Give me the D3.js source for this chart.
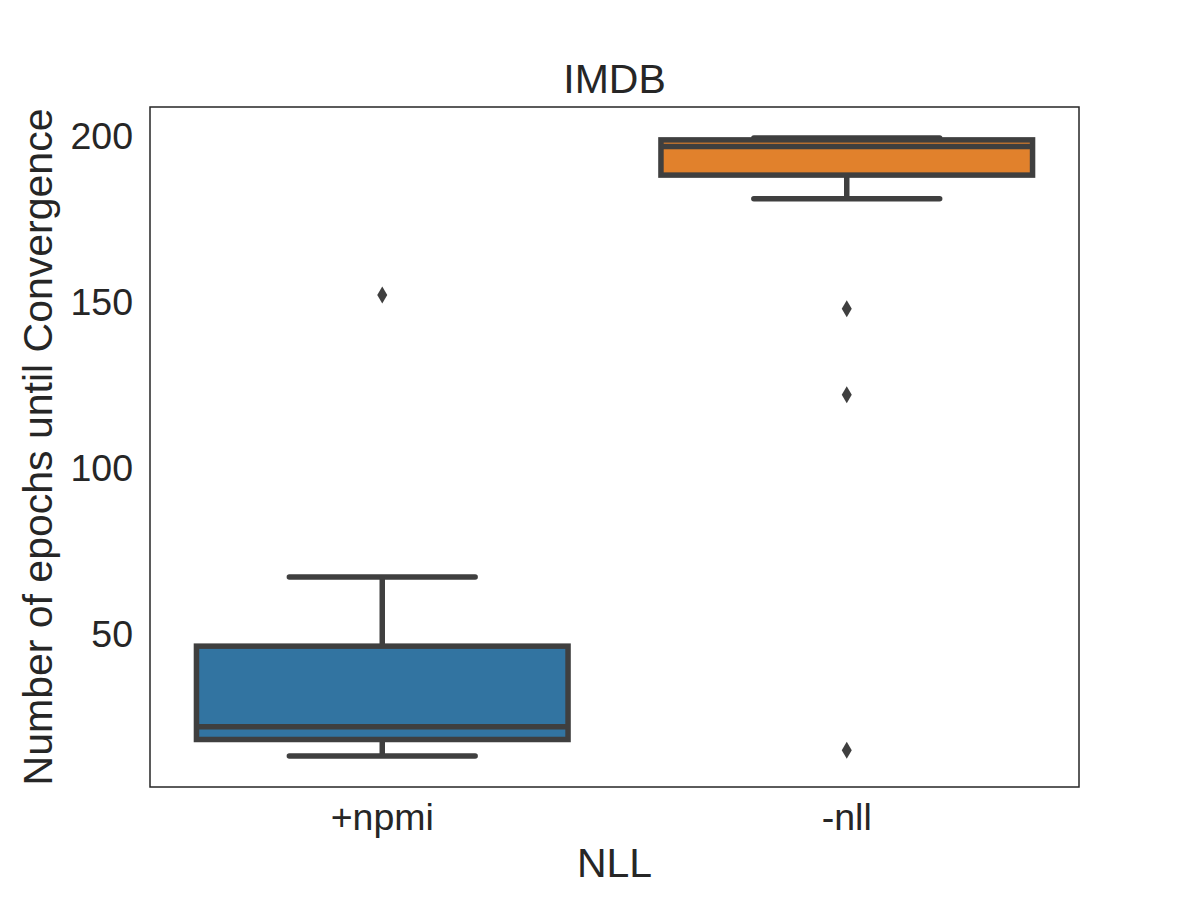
<!DOCTYPE html>
<html>
<head>
<meta charset="utf-8">
<script src="https://cdn.jsdelivr.net/npm/d3@7"></script>
<style>
  body { margin: 0; background: #fff; }
  text { font-family: "Liberation Sans", Arial, sans-serif; fill: #262626; }
</style>
</head>
<body>
<svg width="1200" height="900"></svg>
<script>
const categories = ['+npmi', '-nll'];
const whiskerLow = [13.5, 181.3];
const q1 = [18.5, 188.4];
const median = [22.3, 197.0];
const q3 = [46.6, 199.0];
const whiskerHigh = [67.4, 199.6];
const outliers = [[152.3], [148.2, 122.3, 15.3]];
const colors = ['#3274a1', '#e1812c'];
const yTicks = [50, 100, 150, 200];

const boxes = categories.map((c, i) => ({
  cat: c, lo: whiskerLow[i], q1: q1[i], med: median[i], q3: q3[i], hi: whiskerHigh[i],
  out: outliers[i], color: colors[i]
}));

const svg = d3.select('svg'),
      margin = {top: 107, right: 121, bottom: 113, left: 150},
      width = 1200 - margin.left - margin.right,
      height = 900 - margin.top - margin.bottom,
      g = svg.append('g').attr('transform', `translate(${margin.left}, ${margin.top})`);

const x = d3.scaleBand()
  .domain(categories)
  .range([0, width]);

const y = d3.scaleLinear()
  .domain([4.2, 208.9])
  .range([height, 0]);

const boxW = x.bandwidth() * 0.8,
      lineColor = '#3f3f3f',
      lw = 5.5;

// Axes (seaborn white style: no tick marks)
g.append('g')
  .attr('transform', `translate(0, ${height})`)
  .call(d3.axisBottom(x).tickSize(0).tickPadding(16))
  .call(a => a.select('.domain').remove())
  .selectAll('text')
    .style('font-size', '37.5px')
    .attr('fill', '#262626');

g.append('g')
  .call(d3.axisLeft(y).tickValues(yTicks).tickSize(0).tickPadding(17))
  .call(a => a.select('.domain').remove())
  .selectAll('text')
    .style('font-size', '37.5px')
    .attr('dy', '0.32em')
    .attr('fill', '#262626');

const bx = g.append('g').selectAll('.box')
  .data(boxes)
  .enter().append('g')
    .attr('class', 'box')
    .attr('transform', d => `translate(${x(d.cat) + x.bandwidth() / 2}, 0)`);

// Whiskers
bx.append('line')
  .attr('x1', 0).attr('x2', 0)
  .attr('y1', d => y(d.hi)).attr('y2', d => y(d.q3))
  .attr('stroke', lineColor).attr('stroke-width', lw);
bx.append('line')
  .attr('x1', 0).attr('x2', 0)
  .attr('y1', d => y(d.lo)).attr('y2', d => y(d.q1))
  .attr('stroke', lineColor).attr('stroke-width', lw);

// Caps
['hi', 'lo'].forEach(k => {
  bx.append('line')
    .attr('x1', -boxW / 4).attr('x2', boxW / 4)
    .attr('y1', d => y(d[k])).attr('y2', d => y(d[k]))
    .attr('stroke', lineColor).attr('stroke-width', lw)
    .attr('stroke-linecap', 'round');
});

// Box
bx.append('rect')
  .attr('x', -boxW / 2)
  .attr('width', boxW)
  .attr('y', d => y(d.q3))
  .attr('height', d => y(d.q1) - y(d.q3))
  .attr('fill', d => d.color)
  .attr('stroke', lineColor)
  .attr('stroke-width', lw);

// Median
bx.append('line')
  .attr('x1', -boxW / 2).attr('x2', boxW / 2)
  .attr('y1', d => y(d.med)).attr('y2', d => y(d.med))
  .attr('stroke', lineColor).attr('stroke-width', lw);

// Outliers (thin diamonds)
bx.selectAll('.flier')
  .data(d => d.out)
  .enter().append('path')
    .attr('class', 'flier')
    .attr('d', v => `M0,${y(v) - 8.5}L5,${y(v)}L0,${y(v) + 8.5}L-5,${y(v)}Z`)
    .attr('fill', lineColor);

// Frame
g.append('rect')
  .attr('width', width).attr('height', height)
  .attr('fill', 'none')
  .attr('stroke', '#262626')
  .attr('stroke-width', 1.5);

// Title and labels
svg.append('text')
  .attr('x', margin.left + width / 2).attr('y', 93)
  .attr('text-anchor', 'middle')
  .style('font-size', '41px')
  .text('IMDB');

svg.append('text')
  .attr('x', margin.left + width / 2).attr('y', 877)
  .attr('text-anchor', 'middle')
  .style('font-size', '41px')
  .text('NLL');

svg.append('text')
  .attr('transform', `translate(52, ${margin.top + height / 2}) rotate(-90)`)
  .attr('text-anchor', 'middle')
  .style('font-size', '41px')
  .text('Number of epochs until Convergence');
</script>
</body>
</html>
